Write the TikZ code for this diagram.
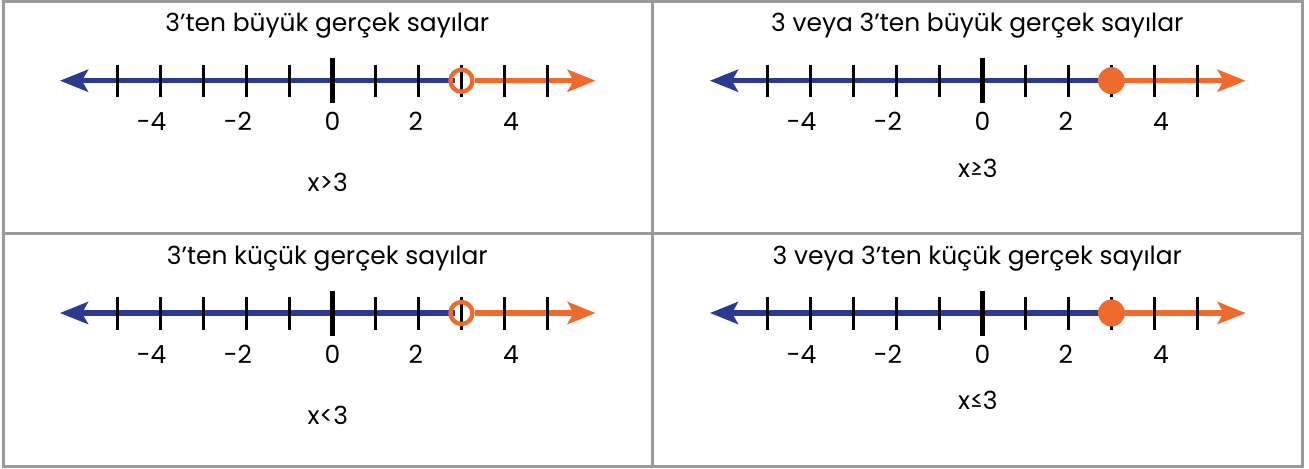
\documentclass[tikz,border=0pt]{standalone}
\usepackage{fontspec}
\setmainfont{Poppins}
\usetikzlibrary{arrows.meta,backgrounds}

\definecolor{lineblue}{HTML}{2B3990}
\definecolor{lineorange}{HTML}{EF6A2D}
\definecolor{framegray}{HTML}{9A9A9A}

\newcommand*{\arrowmin}{-6.34}
\newcommand*{\arrowmax}{6.12}

\begin{document}
\begin{tikzpicture}
[
	x=0.02cm, y=-0.02cm,
	txt/.style={font=\fontsize{14.2pt}{16pt}\selectfont,anchor=base,inner sep=0pt},
	closedpt/.style={circle,fill=lineorange,inner sep=0pt,minimum size=0.54cm},
	openpt/.style={circle,draw=lineorange,line width=2.5pt,inner sep=0pt,minimum size=0.44cm},
	ray/.style={line width=3pt,-{Stealth[length=0.56cm,width=0.44cm,inset=0.12cm]}},
	tick/.style={line width=1.4pt}
]
	\useasboundingbox (0,0) rectangle (1309,468);

	% frame
	\draw[framegray,line width=1.7pt] (3.5,1.5) rectangle (1302,466.5);
	\draw[framegray,line width=1.7pt] (652.3,1.5) -- (652.3,466.5);
	\draw[framegray,line width=1.7pt] (3.5,233.5) -- (1302,233.5);

	% four number lines
	\foreach \dx/\dy/\ttl/\ineq/\pt/\iy/\nm in {
		0/0/{3’ten büyük gerçek sayılar}/{x>3}/openpt/111/a,
		650/0/{3 veya 3’ten büyük gerçek sayılar}/{x≥3}/closedpt/96.8/b,
		0/232.3/{3’ten küçük gerçek sayılar}/{x<3}/openpt/111/c,
		650/232.3/{3 veya 3’ten küçük gerçek sayılar}/{x≤3}/closedpt/96.8/d} {
	\begin{scope}[shift={(332.5+\dx,80.7+\dy)},x=0.86cm]

		% title
		\node[txt] (title\nm) at (-0.12,-49) {\ttl};

		% point at three
		\node[\pt] (dot\nm) at (3,0) {};
		\coordinate (left\nm) at (\arrowmin,0);
		\coordinate (right\nm) at (\arrowmax,0);

		\begin{scope}[on background layer]
			% rays
			\draw[lineblue,ray,shorten <=-0.14cm] (dot\nm.west) -- (left\nm);
			\draw[lineorange,ray] (dot\nm.east) -- (right\nm);
			% ticks
			\foreach \t in {-5,...,5} {
				\draw[tick] (\t,-16) -- (\t,16.5);
			}
			\draw[line width=3pt] (0,-22.5) -- (0,22.6);
		\end{scope}

		% label ticks
		\foreach \v/\p in {-4/-4.21,-2/-2.2,0/0,2/1.94,4/4.15} {
			\node[txt] (lab\nm\v) at (\p,50) {\v};
		}

		% inequality
		\node[txt] (ineq\nm) at (-0.11,\iy) {\ineq};
	\end{scope}
	}

\end{tikzpicture}
\end{document}
